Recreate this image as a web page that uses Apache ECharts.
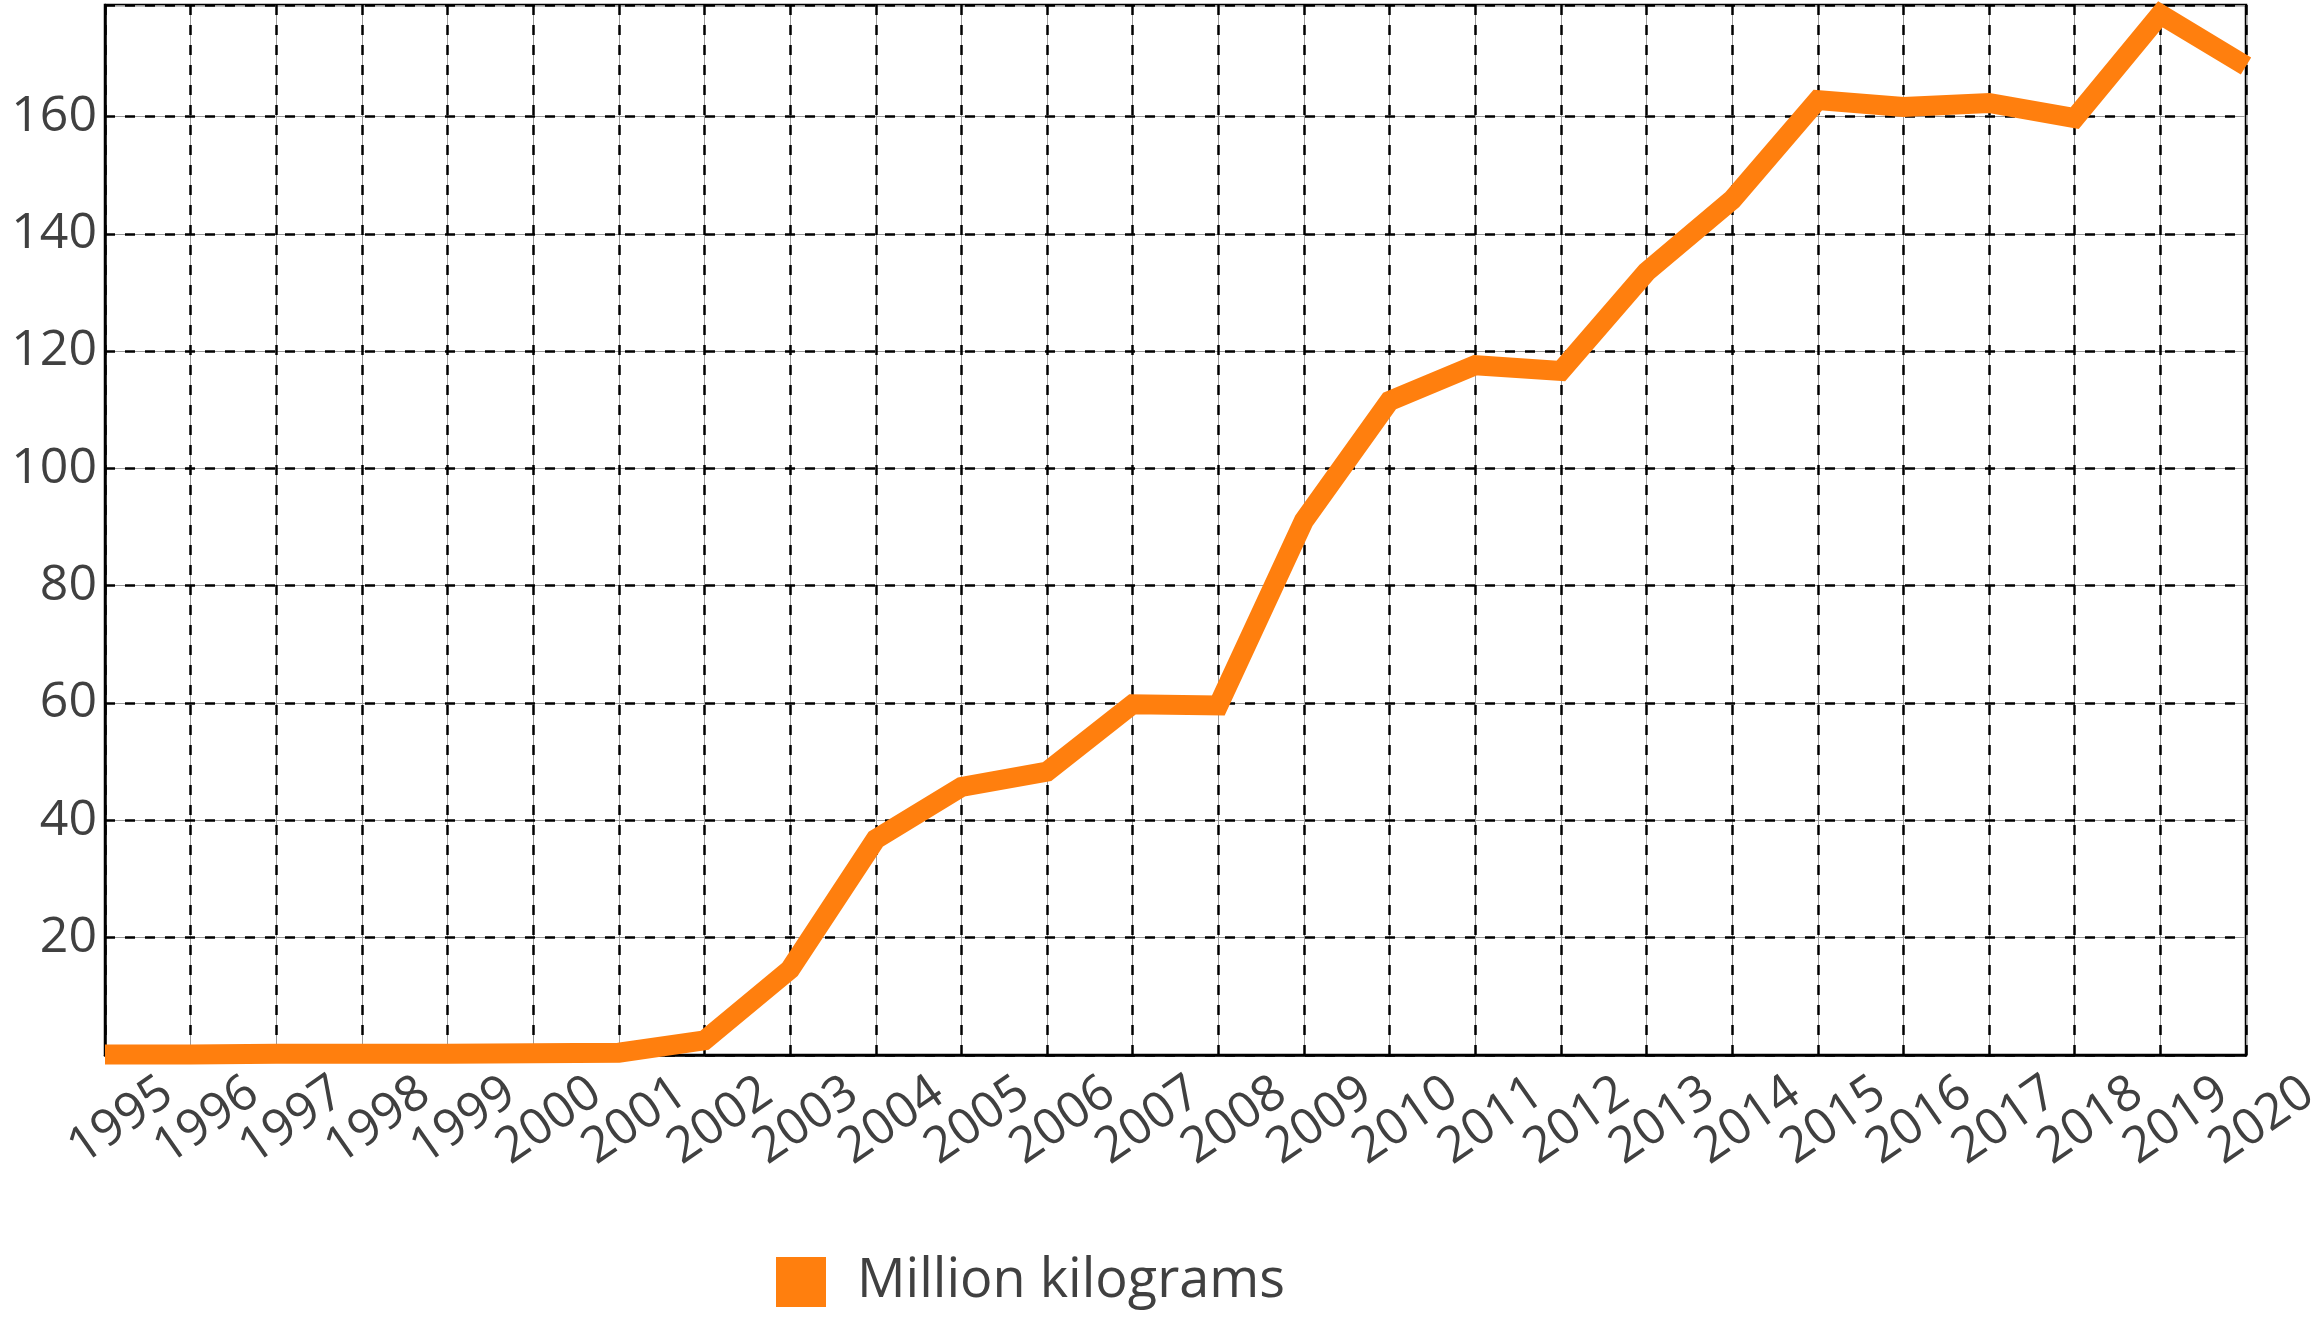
<!DOCTYPE html>
<html>
<head>
<meta charset="utf-8">
<style>
  html, body { margin: 0; padding: 0; background: #ffffff; }
  #chart { width: 2317px; height: 1319px; }
</style>
<script src="https://cdn.jsdelivr.net/npm/echarts@6/dist/echarts.min.js"></script>
</head>
<body>
<div id="chart"></div>
<script>
const years = ['1995','1996','1997','1998','1999','2000','2001','2002','2003','2004','2005','2006','2007','2008','2009','2010','2011','2012','2013','2014','2015','2016','2017','2018','2019','2020'];
const millionKg = [0.1, 0.1, 0.2, 0.2, 0.2, 0.3, 0.4, 2.5, 14.6, 36.8, 45.7, 48.3, 59.8, 59.6, 91.1, 111.5, 117.6, 116.6, 133.5, 145.8, 162.8, 161.6, 162.3, 159.7, 177.4, 168.6];
const seriesName = 'Million kilograms';
const yTicks = [20, 40, 60, 80, 100, 120, 140, 160];

const chart = echarts.init(document.getElementById('chart'), null, { renderer: 'canvas' });
const fontFam = '"Open Sans", "Noto Sans", sans-serif';
const textColor = '#404040';
const orange = '#ff7f0e';
const dashStyle = { color: '#000', width: 2.5, type: [10, 10] };
const solidStyle = { color: '#9a9a9a', width: 1, type: 'solid' };

chart.setOption({
  animation: false,
  backgroundColor: '#ffffff',
  grid: {
    left: 105, right: 71, top: 5, bottom: 264,
    containLabel: false, outerBoundsMode: 'none',
    show: true, borderColor: '#000000', borderWidth: 2.5, backgroundColor: 'transparent'
  },
  legend: {
    left: 776, top: 1255, padding: 0,
    icon: 'rect', itemWidth: 50, itemHeight: 50,
    data: [{ name: seriesName, itemStyle: { color: orange } }],
    textStyle: { fontFamily: fontFam, fontSize: 54, color: textColor, padding: [0, 0, 0, 26] }
  },
  xAxis: [{
    type: 'category',
    data: years,
    boundaryGap: false,
    axisLine: { show: true, lineStyle: { color: '#000', width: 2.5 } },
    axisTick: { show: false },
    splitLine: { show: true, interval: 0, lineStyle: dashStyle },
    axisLabel: {
      interval: 0, rotate: 35, align: 'center', verticalAlign: 'middle',
      margin: 77, padding: [0, 0, 0, 39], hideOverlap: false,
      fontFamily: fontFam, fontSize: 50, color: textColor
    },
    z: 2
  }, {
    type: 'category',
    data: years,
    boundaryGap: false,
    position: 'bottom',
    axisLine: { show: false },
    axisTick: { show: false },
    axisLabel: { show: false },
    splitLine: { show: true, interval: 0, lineStyle: solidStyle },
    z: 1
  }],
  yAxis: [{
    type: 'value',
    min: 0, max: 179, interval: 20,
    axisLine: { show: true, lineStyle: { color: '#000', width: 2.5 } },
    axisTick: { show: false },
    splitLine: { show: true, lineStyle: dashStyle },
    axisLabel: {
      showMinLabel: false, showMaxLabel: false, margin: 8,
      fontFamily: fontFam, fontSize: 50, color: textColor,
      formatter: function (v) { return yTicks.indexOf(v) >= 0 ? String(v) : ''; }
    },
    z: 2
  }, {
    type: 'value',
    min: 0, max: 179, interval: 20,
    position: 'left',
    axisLine: { show: false },
    axisTick: { show: false },
    axisLabel: { show: false },
    splitLine: { show: true, lineStyle: solidStyle },
    z: 1
  }],
  series: [{
    name: seriesName,
    type: 'line',
    data: millionKg,
    xAxisIndex: 0,
    yAxisIndex: 0,
    showSymbol: false,
    symbol: 'none',
    clip: false,
    lineStyle: { color: orange, width: 20, cap: 'butt', join: 'miter' },
    itemStyle: { color: orange },
    z: 5
  }]
});
</script>
</body>
</html>
